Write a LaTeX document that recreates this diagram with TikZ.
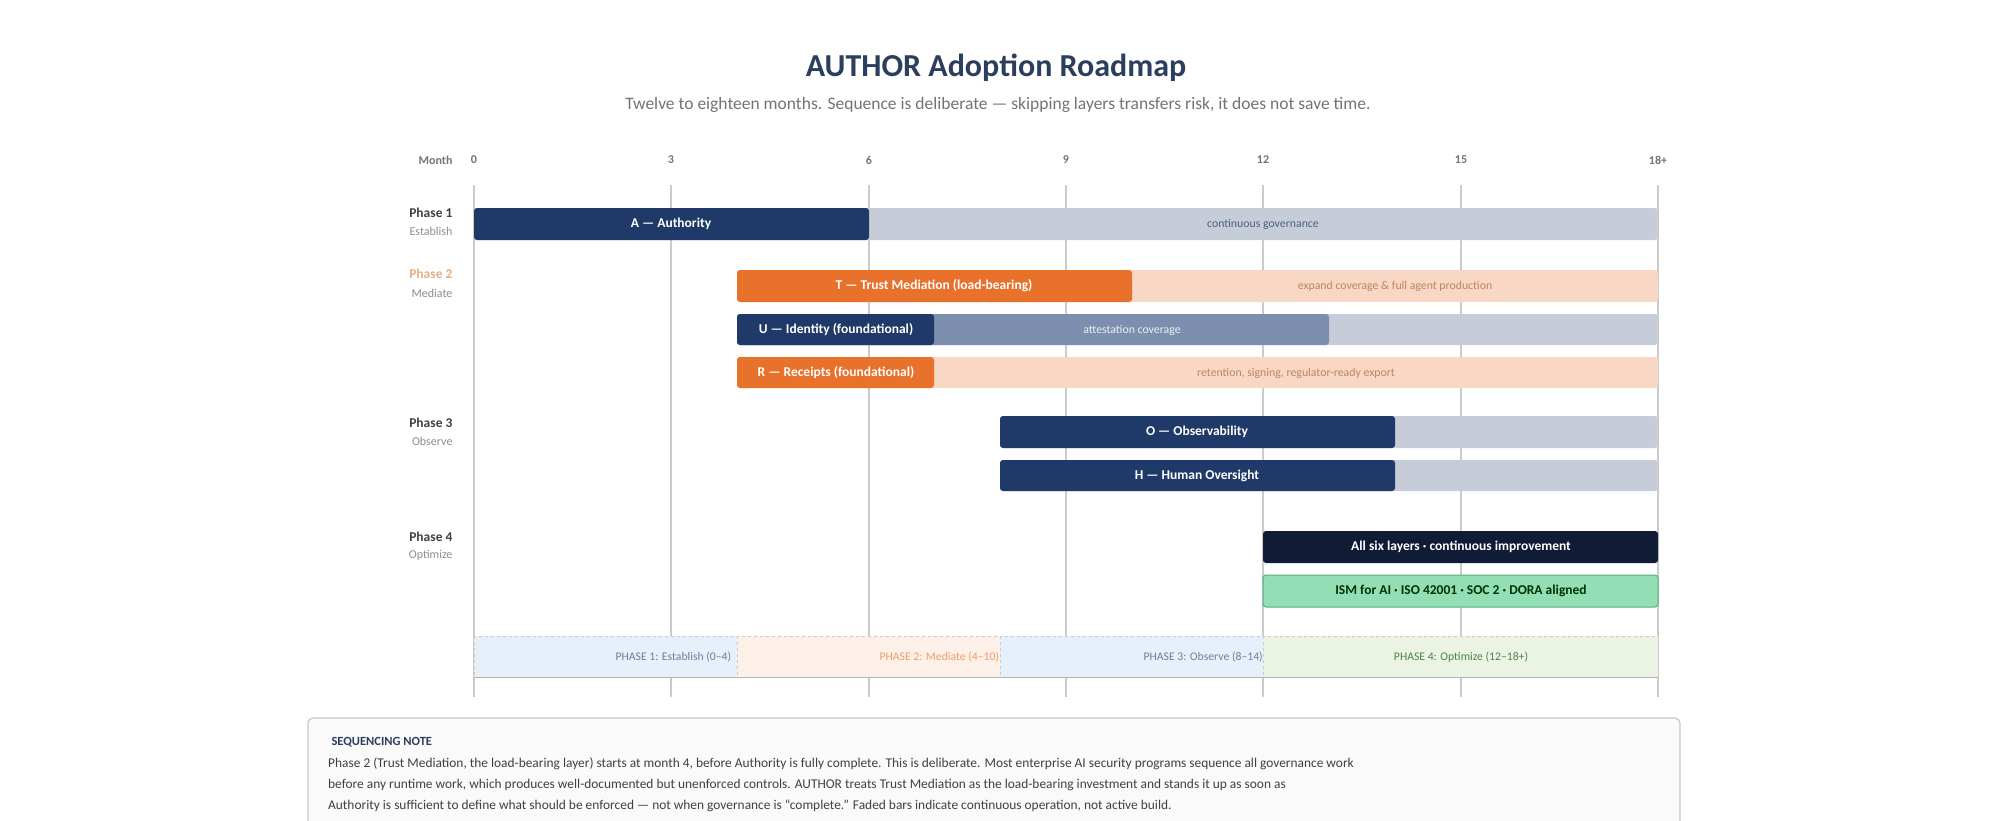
\documentclass[tikz,border=0pt]{standalone}
\usepackage{fontspec}
\setmainfont{Carlito}

\definecolor{navy}{HTML}{1F3A68}
\definecolor{darknavy}{HTML}{101B36}
\definecolor{midblue}{HTML}{7D8FAE}
\definecolor{fadenavy}{HTML}{C6CDD9}
\definecolor{orange}{HTML}{E8712C}
\definecolor{fadeorange}{HTML}{F9D7C5}
\definecolor{greenfill}{HTML}{93DEB4}
\definecolor{greenline}{HTML}{52B07F}
\definecolor{titleblue}{HTML}{2C3E5E}
\definecolor{gridgrey}{HTML}{CBCBCB}
\definecolor{bandblue}{HTML}{E7F0FA}
\definecolor{bandpeach}{HTML}{FDF0E8}
\definecolor{bandgreen}{HTML}{EBF4E2}

\tikzset{
  bar/.style={rounded corners=3pt},
  barlabel/.style={text=white,font=\fontsize{13.5}{15}\selectfont\bfseries},
  fadelabel/.style={font=\fontsize{11.8}{13}\selectfont},
  phaselabel/.style={anchor=east,align=right,font=\fontsize{13.5}{15}\selectfont\bfseries,text=black!75},
  phasesub/.style={anchor=east,font=\fontsize{12}{14}\selectfont,text=black!45},
  monthlabel/.style={font=\fontsize{12}{14}\selectfont\bfseries,text=black!55},
  bandlabel/.style={font=\fontsize{11.7}{13}\selectfont},
}

\begin{document}
\begin{tikzpicture}[x=1pt,y=-1pt]
  \useasboundingbox (0,0) rectangle (2000,820);

  % Title
  \node[font=\fontsize{32}{36}\selectfont\bfseries,text=titleblue] (title) at (996,68) {AUTHOR Adoption Roadmap};
  \node[font=\fontsize{17.5}{20}\selectfont,text=black!55] (subtitle) at (998,105) {Twelve to eighteen months. Sequence is deliberate — skipping layers transfers risk, it does not save time.};

  % Month axis
  \node[monthlabel,anchor=east] (month) at (456,160) {Month};
  \node[monthlabel] (m0) at (474,160) {0};
  \node[monthlabel] (m3) at (671,160) {3};
  \node[monthlabel] (m6) at (869,160) {6};
  \node[monthlabel] (m9) at (1066,160) {9};
  \node[monthlabel] (m12) at (1263,160) {12};
  \node[monthlabel] (m15) at (1461,160) {15};
  \node[monthlabel] (m18) at (1658,160) {18+};

  % Grid lines
  \foreach \x in {474,671,869,1066,1263,1461,1658}
    \draw[gridgrey,line width=1.2pt] (\x,185) -- (\x,697);

  % Phase labels
  \node[phaselabel] (p1) at (456,213) {Phase 1};
  \node[phasesub] (p1s) at (456,231) {Establish};
  \node[phaselabel,text=orange!45!brown!60] (p2) at (456,274) {Phase 2};
  \node[phasesub] (p2s) at (456,293) {Mediate};
  \node[phaselabel] (p3) at (456,423) {Phase 3};
  \node[phasesub] (p3s) at (456,441) {Observe};
  \node[phaselabel] (p4) at (456,537) {Phase 4};
  \node[phasesub] (p4s) at (456,555) {Optimize};

  % Phase 1 bars
  \fill[bar,fadenavy] (474,208) rectangle (1658,240);
  \fill[bar,navy] (474,208) rectangle (869,240);
  \node[barlabel] (authority) at (671,224) {A — Authority};
  \node[fadelabel,text=navy!80] (governance) at (1263,224) {continuous governance};

  % Phase 2 bars
  \fill[bar,fadeorange] (737,270) rectangle (1658,302);
  \fill[bar,orange] (737,270) rectangle (1132,302);
  \node[barlabel] (trust) at (934,286) {T — Trust Mediation (load-bearing)};
  \node[fadelabel,text=orange!70!black!70] (expand) at (1395,286) {expand coverage \& full agent production};

  \fill[bar,fadenavy] (737,314) rectangle (1658,345);
  \fill[bar,midblue] (737,314) rectangle (1329,345);
  \fill[bar,navy] (737,314) rectangle (934,345);
  \node[barlabel] (identity) at (836,330) {U — Identity (foundational)};
  \node[fadelabel,text=white!85!midblue] (attest) at (1132,330) {attestation coverage};

  \fill[bar,fadeorange] (737,357) rectangle (1658,388);
  \fill[bar,orange] (737,357) rectangle (934,388);
  \node[barlabel] (receipts) at (836,373) {R — Receipts (foundational)};
  \node[fadelabel,text=orange!70!black!70] (retention) at (1296,373) {retention, signing, regulator-ready export};

  % Phase 3 bars
  \fill[bar,fadenavy] (1000,416) rectangle (1658,448);
  \fill[bar,navy] (1000,416) rectangle (1395,448);
  \node[barlabel] (observe) at (1197,432) {O — Observability};

  \fill[bar,fadenavy] (1000,460) rectangle (1658,491);
  \fill[bar,navy] (1000,460) rectangle (1395,491);
  \node[barlabel] (oversight) at (1197,476) {H — Human Oversight};

  % Phase 4 bars
  \fill[bar,darknavy] (1263,531) rectangle (1658,563);
  \node[barlabel] (sixlayers) at (1461,547) {All six layers · continuous improvement};
  \draw[bar,fill=greenfill,draw=greenline,line width=1pt] (1263,575) rectangle (1658,607);
  \node[barlabel,text=black!80!green] (ism) at (1461,591) {ISM for AI · ISO 42001 · SOC 2 · DORA aligned};

  % Phase bands
  \draw[fill=bandblue,draw=gridgrey,dashed] (474,636) rectangle (737,677);
  \draw[fill=bandpeach,draw=gridgrey,dashed] (737,636) rectangle (1000,677);
  \draw[fill=bandblue,draw=gridgrey,dashed] (1000,636) rectangle (1263,677);
  \draw[fill=bandgreen,draw=gridgrey,dashed] (1263,636) rectangle (1658,677);
  \draw[black!30,line width=1pt] (474,677) -- (1658,677);
  \begin{scope}
    \clip (474,636) rectangle (737,677);
    \node[bandlabel,anchor=west,text=navy!65] (band1) at (612,657) {PHASE 1: Establish (0–4)};
  \end{scope}
  \begin{scope}
    \clip (737,636) rectangle (1000,677);
    \node[bandlabel,anchor=west,text=orange!70] (band2) at (876,657) {PHASE 2: Mediate (4–10)};
  \end{scope}
  \begin{scope}
    \clip (1000,636) rectangle (1263,677);
    \node[bandlabel,anchor=west,text=navy!65] (band3) at (1140,657) {PHASE 3: Observe (8–14)};
  \end{scope}
  \node[bandlabel,text=green!30!black!70] (band4) at (1461,657) {PHASE 4: Optimize (12–18+)};

  % Sequencing note
  \draw[rounded corners=5pt,fill=black!2,draw=black!22,line width=1.2pt] (308,718) rectangle (1680,840);
  \node[anchor=west,font=\fontsize{12.5}{14}\selectfont\bfseries,text=titleblue] (notehead) at (328,742) {SEQUENCING NOTE};
  \node[anchor=north west,align=left,font=\fontsize{13.4}{21}\selectfont,text=black!75,inner sep=0pt] (notetext) at (328,757)
    {Phase 2 (Trust Mediation, the load-bearing layer) starts at month 4, before Authority is fully complete. This is deliberate. Most enterprise AI security programs sequence all governance work\\
     before any runtime work, which produces well-documented but unenforced controls. AUTHOR treats Trust Mediation as the load-bearing investment and stands it up as soon as\\
     Authority is sufficient to define what should be enforced — not when governance is “complete.” Faded bars indicate continuous operation, not active build.};
\end{tikzpicture}
\end{document}
